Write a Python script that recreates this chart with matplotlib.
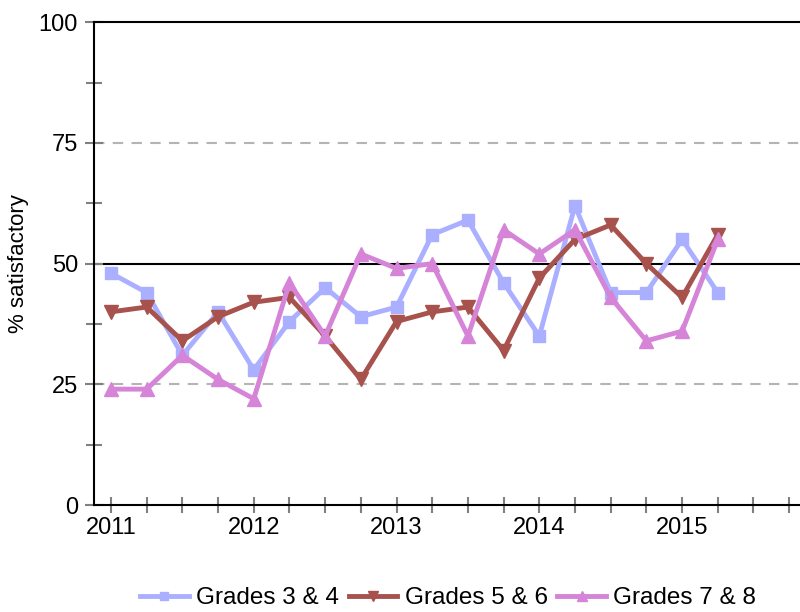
import matplotlib
matplotlib.use("Agg")
import matplotlib.pyplot as plt
from matplotlib.ticker import MultipleLocator

# quarterly axis labels (only the first quarter of each year is labelled)
tick_labels = ["2011", "", "", "", "2012", "", "", "", "2013", "", "", "",
               "2014", "", "", "", "2015", "", "", ""]

grades_34 = [48, 44, 31, 40, 28, 38, 45, 39, 41, 56, 59, 46, 35, 62, 44, 44, 55, 44]
grades_56 = [40, 41, 34, 39, 42, 43, 35, 26, 38, 40, 41, 32, 47, 55, 58, 50, 43, 56]
grades_78 = [24, 24, 31, 26, 22, 46, 35, 52, 49, 50, 35, 57, 52, 57, 43, 34, 36, 55]

series_names = ["Grades 3 & 4", "Grades 5 & 6", "Grades 7 & 8"]

plt.rcParams['font.family'] = ['Liberation Sans', 'DejaVu Sans']

fig = plt.figure(figsize=(8, 6.12), dpi=100)
ax = fig.add_axes([0.1175, 0.1748, 0.885, 0.789])

x = list(range(len(grades_34)))
l1, = ax.plot(x, grades_34, color="#aab0ff", lw=3.5, marker="s", ms=8, label=series_names[0])
l2, = ax.plot(x, grades_56, color="#a8524e", lw=3.5, marker="v", ms=9.5, label=series_names[1])
l3, = ax.plot(x, grades_78, color="#d584d8", lw=3.5, marker="^", ms=9.5, label=series_names[2])

# reference lines
ax.axhline(25, color="#b4b4b4", lw=1.5, ls=(0, (5, 4)), zorder=0)
ax.axhline(75, color="#b4b4b4", lw=1.5, ls=(0, (5, 4)), zorder=0)
ax.axhline(50, color="black", lw=1.5, zorder=1)

ax.set_ylim(0, 100)
ax.set_xlim(-0.476, 19.36)

ax.yaxis.set_major_locator(MultipleLocator(25))
ax.yaxis.set_minor_locator(MultipleLocator(12.5))
ax.set_xticks(range(len(tick_labels)))
ax.set_xticklabels(tick_labels)

ax.tick_params(axis="y", which="major", direction="inout", length=13, width=1.5,
               color="#808080", labelsize=17, pad=5)
ax.tick_params(axis="y", which="minor", direction="inout", length=11, width=1.5,
               color="#808080")
ax.tick_params(axis="x", which="major", direction="inout", length=11.5, width=1.5,
               color="#808080", labelsize=17, pad=3)

for side in ["left", "bottom", "top"]:
    ax.spines[side].set_linewidth(1.5)
    ax.spines[side].set_color("black")
ax.spines["right"].set_visible(False)

ax.set_ylabel("% satisfactory", fontsize=16, labelpad=7)

fig.legend(handles=[l1, l2, l3], loc="center", bbox_to_anchor=(448 / 800, 1 - 598 / 612),
           ncol=3, frameon=False, fontsize=17.5, handlelength=2.0, handletextpad=0.3,
           columnspacing=0.4, markerscale=0.7)

fig.savefig("out.png", dpi=100)
